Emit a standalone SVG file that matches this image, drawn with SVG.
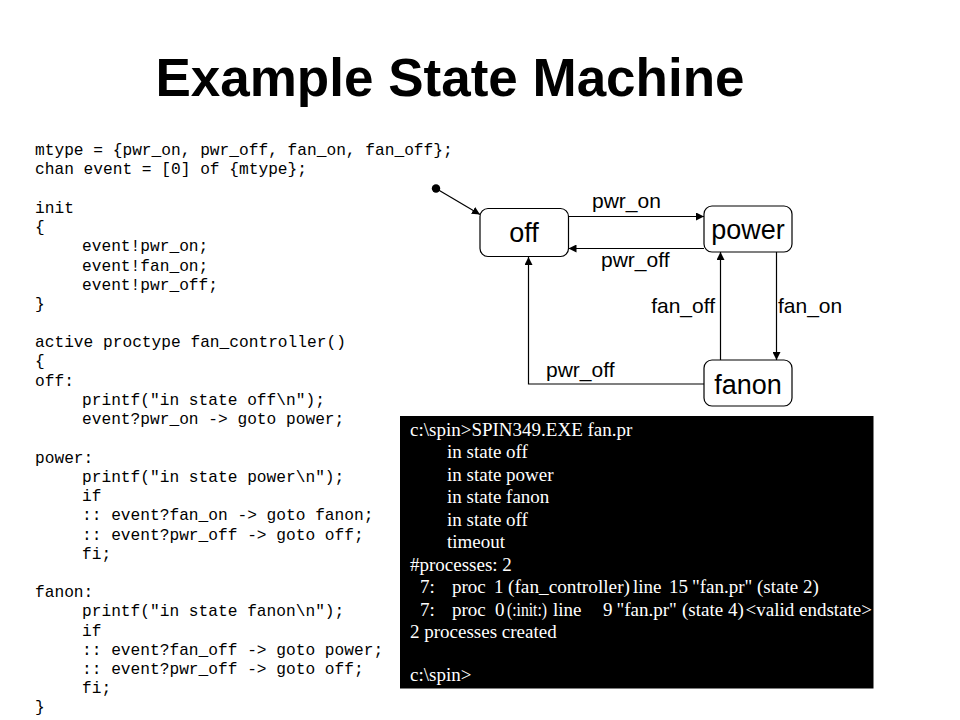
<svg xmlns="http://www.w3.org/2000/svg" width="960" height="720" viewBox="0 0 960 720">
<style>
.title{font-family:"Liberation Sans",Arial,sans-serif;font-weight:bold;font-size:53px;fill:#000}
.code{font-family:"Liberation Mono","Courier New",monospace;font-size:16.2px;fill:#000}
.state{fill:#fff;stroke:#000;stroke-width:1.2}
.sname{font-family:"Liberation Sans",Arial,sans-serif;font-size:27px;fill:#000;text-anchor:middle}
.lbl{font-family:"Liberation Sans",Arial,sans-serif;font-size:21px;fill:#000}
.edge{fill:none;stroke:#000;stroke-width:1.2}
.term{font-family:"Liberation Serif","Times New Roman",serif;font-size:19px;fill:#fff}
</style>
<defs>
<marker id="arr" viewBox="0 0 10 10" refX="10" refY="5" markerWidth="8" markerHeight="8" markerUnits="userSpaceOnUse" orient="auto">
<path d="M0,0 L10,5 L0,10 z" fill="#000"/>
</marker>
</defs>
<rect width="960" height="720" fill="#fff"/>
<text class="title" x="450" y="96" text-anchor="middle">Example State Machine</text>

<g id="code">
<text class="code" x="35" y="155">mtype = {pwr_on, pwr_off, fan_on, fan_off};</text>
<text class="code" x="35" y="174">chan event = [0] of {mtype};</text>
<text class="code" x="35" y="213">init</text>
<text class="code" x="35" y="232">{</text>
<text class="code" x="82" y="251">event!pwr_on;</text>
<text class="code" x="82" y="271">event!fan_on;</text>
<text class="code" x="82" y="290">event!pwr_off;</text>
<text class="code" x="35" y="309">}</text>
<text class="code" x="35" y="347">active proctype fan_controller()</text>
<text class="code" x="35" y="366">{</text>
<text class="code" x="35" y="386">off:</text>
<text class="code" x="82" y="405">printf("in state off\n");</text>
<text class="code" x="82" y="424">event?pwr_on -&gt; goto power;</text>
<text class="code" x="35" y="463">power:</text>
<text class="code" x="82" y="482">printf("in state power\n");</text>
<text class="code" x="82" y="501">if</text>
<text class="code" x="82" y="520">:: event?fan_on -&gt; goto fanon;</text>
<text class="code" x="82" y="540">:: event?pwr_off -&gt; goto off;</text>
<text class="code" x="82" y="559">fi;</text>
<text class="code" x="35" y="597">fanon:</text>
<text class="code" x="82" y="616">printf("in state fanon\n");</text>
<text class="code" x="82" y="636">if</text>
<text class="code" x="82" y="655">:: event?fan_off -&gt; goto power;</text>
<text class="code" x="82" y="674">:: event?pwr_off -&gt; goto off;</text>
<text class="code" x="82" y="693">fi;</text>
<text class="code" x="35" y="712">}</text>
</g>

<g id="connectors">
<circle cx="436" cy="188.5" r="4.2" fill="#000"/>
<line class="edge" x1="436" y1="188.5" x2="480" y2="214.5" marker-end="url(#arr)"/>
<line class="edge" x1="568.5" y1="216.5" x2="704" y2="216.5" marker-end="url(#arr)"/>
<line class="edge" x1="704" y1="248.5" x2="568.5" y2="248.5" marker-end="url(#arr)"/>
<line class="edge" x1="720.5" y1="360" x2="720.5" y2="252" marker-end="url(#arr)"/>
<line class="edge" x1="776.5" y1="252" x2="776.5" y2="360" marker-end="url(#arr)"/>
<polyline class="edge" points="704,384 528.5,384 528.5,257" marker-end="url(#arr)"/>
<text class="lbl" x="592" y="208">pwr_on</text>
<text class="lbl" x="601" y="267">pwr_off</text>
<text class="lbl" x="715" y="313" text-anchor="end">fan_off</text>
<text class="lbl" x="778" y="313">fan_on</text>
<text class="lbl" x="546" y="377">pwr_off</text>
</g>

<g id="off">
<rect class="state" x="480" y="208.5" width="88.5" height="48" rx="8"/>
<text class="sname" x="524" y="242">off</text>
</g>
<g id="power">
<rect class="state" x="704" y="206" width="88" height="46" rx="8"/>
<text class="sname" x="748" y="238.5">power</text>
</g>
<g id="fanon">
<rect class="state" x="704" y="360" width="88" height="46" rx="8"/>
<text class="sname" x="748" y="393.5">fanon</text>
</g>

<g id="terminal">
<rect x="400" y="416" width="473.5" height="272.5" fill="#000"/>
<text class="term" x="410" y="436">c:\spin&gt;SPIN349.EXE fan.pr</text>
<text class="term" x="447" y="458">in state off</text>
<text class="term" x="447" y="480.5">in state power</text>
<text class="term" x="447" y="503">in state fanon</text>
<text class="term" x="447" y="525.5">in state off</text>
<text class="term" x="447" y="548">timeout</text>
<text class="term" x="410" y="570.5">#processes: 2</text>
<text class="term" y="593"><tspan x="420">7:</tspan><tspan x="452">proc</tspan><tspan x="494">1</tspan></text>
<text class="term" x="508" y="593" textLength="122" lengthAdjust="spacingAndGlyphs">(fan_controller)</text>
<text class="term" y="593"><tspan x="633">line</tspan><tspan x="669">15</tspan><tspan x="692">"fan.pr"</tspan><tspan x="757">(state 2)</tspan></text>
<text class="term" y="615.5"><tspan x="420">7:</tspan><tspan x="452">proc</tspan><tspan x="495">0</tspan></text>
<text class="term" x="507" y="615.5" textLength="40" lengthAdjust="spacingAndGlyphs">(:init:)</text>
<text class="term" y="615.5"><tspan x="553">line</tspan><tspan x="603">9</tspan><tspan x="616.5">"fan.pr"</tspan><tspan x="682">(state 4)</tspan><tspan x="745.5">&lt;valid endstate&gt;</tspan></text>
<text class="term" x="410" y="638">2 processes created</text>
<text class="term" x="410" y="681">c:\spin&gt;</text>
</g>
</svg>
